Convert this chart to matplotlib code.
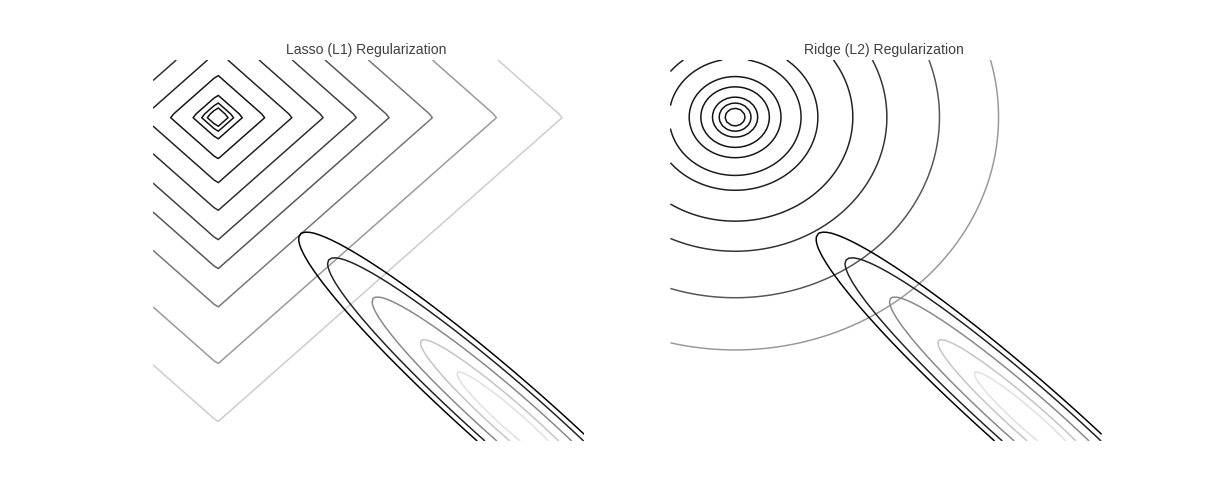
import numpy as np
import matplotlib
matplotlib.use("Agg")
import matplotlib.pyplot as plt

# ---- data ----
titles = ["Lasso (L1) Regularization", "Ridge (L2) Regularization"]
w1_range = [-0.3, 1.7]
w2_range = [-1.7, 0.3]
n_grid = 100

# L1 norm contour levels (|w1| + |w2|)
l1_levels = [0.051, 0.077, 0.117, 0.221, 0.347, 0.492, 0.646, 0.798, 0.999, 1.296, 1.600]
# L2 norm contour levels (sqrt(w1^2 + w2^2))
l2_levels = [0.046, 0.074, 0.105, 0.159, 0.213, 0.306, 0.384, 0.546, 0.704, 0.948, 1.222]

# quadratic loss: centre, semi-axes (at level 1) and rotation
loss_center = [1.374, -1.602]
loss_semi_axes = [1.40, 0.19]
loss_angle_deg = -45.0
loss_levels = [0.071, 0.19, 0.435, 0.749, 1.0]

# ---- styles ----
l1_colors = ["#111111", "#111111", "#111111", "#151515", "#222222", "#2e2e2e",
             "#404040", "#555555", "#777777", "#999999", "#cccccc"]
l2_colors = ["#111111", "#111111", "#111111", "#111111", "#151515", "#1a1a1a",
             "#1e1e1e", "#222222", "#333333", "#555555", "#999999"]
loss_colors = ["#e0e0e0", "#c4c4c4", "#888888", "#222222", "#000000"]

w1 = np.linspace(w1_range[0], w1_range[1], n_grid)
w2 = np.linspace(w2_range[0], w2_range[1], n_grid)
W1, W2 = np.meshgrid(w1, w2)

l1 = np.abs(W1) + np.abs(W2)
l2 = np.sqrt(W1 ** 2 + W2 ** 2)

th = np.deg2rad(loss_angle_deg)
dx = W1 - loss_center[0]
dy = W2 - loss_center[1]
along = dx * np.cos(th) + dy * np.sin(th)
perp = -dx * np.sin(th) + dy * np.cos(th)
loss = (along / loss_semi_axes[0]) ** 2 + (perp / loss_semi_axes[1]) ** 2

fig = plt.figure(figsize=(17, 7), dpi=72)
fig.subplots_adjust(left=0.125, right=0.9, top=0.881, bottom=0.125, wspace=0.2)
axes = fig.subplots(1, 2)

for ax, pen, lev, cols, title in zip(axes, [l1, l2], [l1_levels, l2_levels],
                                     [l1_colors, l2_colors], titles):
    ax.contour(W1, W2, pen, levels=lev, colors=cols, linewidths=1.5)
    ax.contour(W1, W2, loss, levels=loss_levels, colors=loss_colors, linewidths=1.5)
    ax.set_xlim(w1_range)
    ax.set_ylim(w2_range)
    ax.set_title(title, fontsize=14, color="#404040", pad=6, x=0.495,
                 family=["Liberation Sans", "DejaVu Sans"])
    ax.axis("off")

fig.savefig("out.png", dpi=72)
